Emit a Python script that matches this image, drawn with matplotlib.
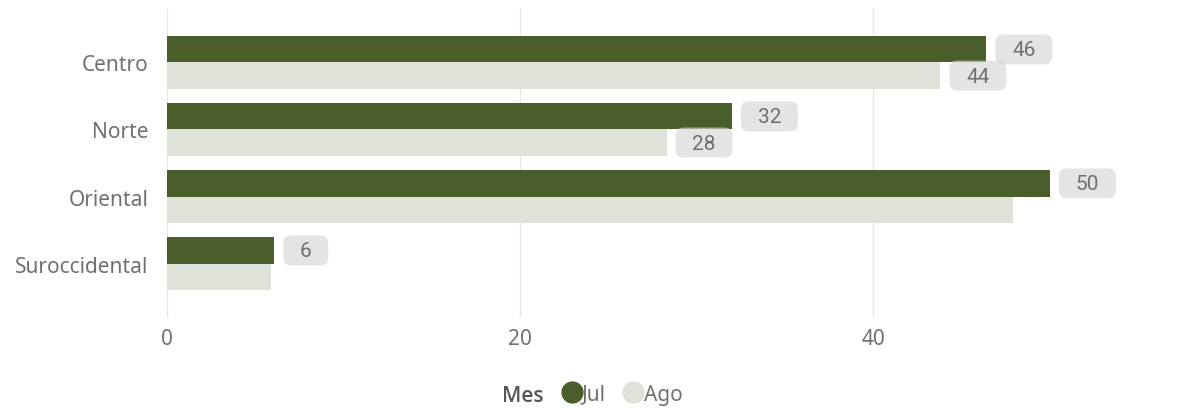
import numpy as np
import matplotlib
matplotlib.use("Agg")
from matplotlib import pyplot as plt
from matplotlib.lines import Line2D
from matplotlib.patches import FancyBboxPatch

plt.rcParams['font.family'] = ['Noto Sans', 'DejaVu Sans']

regiones = ["Centro", "Norte", "Oriental", "Suroccidental"]
jul = [46.4, 32.0, 50.0, 6.1]
ago = [43.8, 28.3, 47.9, 5.9]
# etiquetas visibles (None = oculta en el original)
jul_lab = ["46", "32", "50", "6"]
ago_lab = ["44", "28", None, None]

c_jul = "#4a5e2c"
c_ago = "#dfe2d8"
gris = "#707070"

fig = plt.figure(figsize=(11.98, 4.10), dpi=100)
ax = fig.add_axes([0.139, 0.224, 0.848, 0.752])

y = np.arange(len(regiones))
h = 0.39
ax.barh(y - h / 2, jul, height=h, color=c_jul, zorder=2)
ax.barh(y + h / 2, ago, height=h, color=c_ago, zorder=2)

ax.set_ylim(3.8, -0.8)
ax.set_xlim(0, 57.5)

# conversion pixeles -> datos para las cajas de etiqueta
px_x = ax.bbox.width / 57.5
px_y = ax.bbox.height / 4.6
for i in range(len(regiones)):
    for val, lab, off in ((jul[i], jul_lab[i], -h / 2), (ago[i], ago_lab[i], h / 2)):
        if lab is None:
            continue
        ancho = (12 * len(lab) + 33) / px_x
        alto = 30 / px_y
        x0 = val + 9 / px_x
        yc = y[i] + off
        caja = FancyBboxPatch((x0, yc - alto / 2), ancho, alto,
                              boxstyle="round,pad=0,rounding_size=%f" % (8 / px_x),
                              mutation_aspect=px_x / px_y,
                              fc="#d6d6d6", ec="none", alpha=0.65, zorder=3)
        ax.add_patch(caja)
        ax.text(x0 + ancho / 2, yc + 0.5 / px_y, lab, ha="center", va="center", fontsize=15,
                color=gris, family=["Roboto", "DejaVu Sans"], zorder=4)

ax.set_yticks(y)
ax.set_yticklabels(regiones, fontsize=15, color=gris)
ax.set_xticks([0, 20, 40])
ax.set_xticklabels(["0", "20", "40"], fontsize=15, color=gris)
ax.tick_params(length=0)
ax.tick_params(axis="x", pad=8)
ax.tick_params(axis="y", pad=13)
ax.grid(axis="x", color="#e6e6e6", linewidth=1, zorder=0)
for s in ax.spines.values():
    s.set_visible(False)

fig.text(0.436, 0.033, "Mes", fontsize=15, color="#555555", fontweight="semibold",
         family=["Open Sans", "DejaVu Sans"], ha="center", va="center")
handles = [Line2D([], [], marker="o", ls="none", markersize=15, color=c_jul),
           Line2D([], [], marker="o", ls="none", markersize=15, color=c_ago)]
fig.legend(handles, ["Jul", "Ago"], loc="center", bbox_to_anchor=(0.519, 0.036), ncol=2,
           frameon=False, fontsize=15, labelcolor=gris, handletextpad=0.0, columnspacing=0.8,
           handlelength=1.0, borderpad=0)

fig.savefig("out.png", dpi=100)
